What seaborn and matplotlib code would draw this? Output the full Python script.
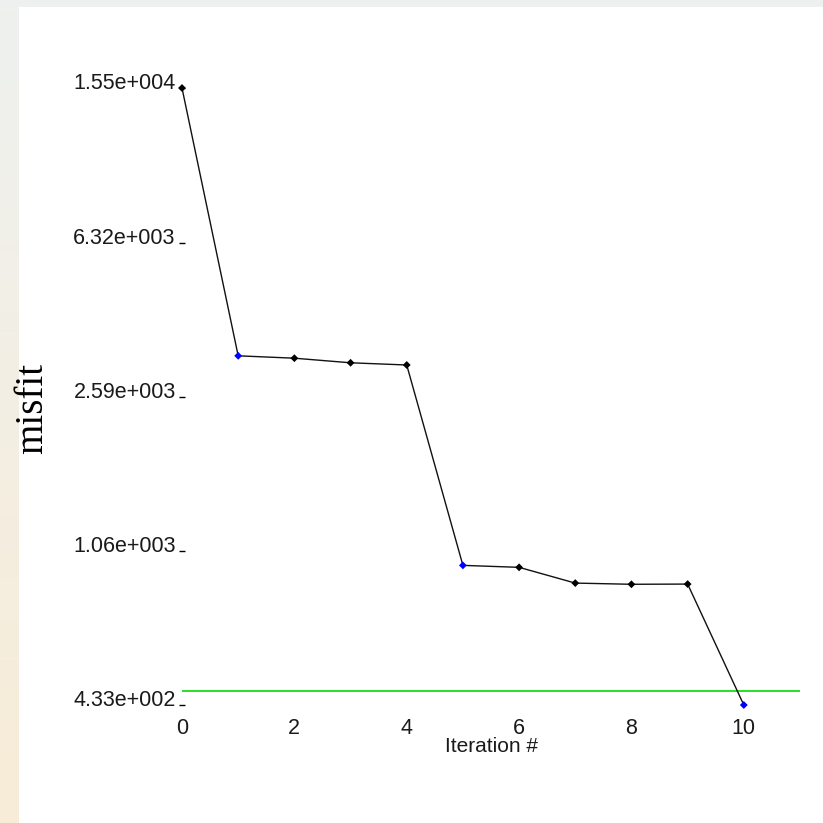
import numpy as np
import pandas as pd
import matplotlib
matplotlib.use("Agg")
import matplotlib.pyplot as plt
import matplotlib.transforms as mtransforms
from matplotlib.patches import Rectangle
import seaborn as sns

# Misfit per inversion iteration
iterations = [0, 1, 2, 3, 4, 5, 6, 7, 8, 9, 10]
misfit = [15500, 3280, 3235, 3150, 3110, 973, 962, 878, 872, 873, 433]
# iterations highlighted in blue
highlight = [False, True, False, False, False, True, False, False, False, False, True]
target_misfit = 470

ytick_values = [433, 1060, 2590, 6320, 15500]
ytick_labels = ["4.33e+002", "1.06e+003", "2.59e+003", "6.32e+003", "1.55e+004"]
xtick_values = [0, 2, 4, 6, 8, 10]

df = pd.DataFrame({"iteration": iterations, "misfit": misfit,
                   "kind": ["hl" if h else "pt" for h in highlight]})

sns.set_theme(style="white")
plt.rcParams["font.family"] = ["Liberation Sans", "DejaVu Sans"]

W = 823
fig = plt.figure(figsize=(8.23, 8.23), dpi=100)
fig.patch.set_facecolor("white")

# frame: thin grey band on top, gradient band on the left
fig.patches.append(Rectangle((0, 1 - 7 / W), 1, 7 / W, transform=fig.transFigure,
                             facecolor="#edf0ee", edgecolor="none", zorder=0))
bg = fig.add_axes([0, 0, 19 / W, 1 - 7 / W])
top_c = np.array([238, 241, 239]) / 255
bot_c = np.array([248, 236, 215]) / 255
t = np.linspace(0, 1, 256)[:, None]
grad = top_c[None, :] * (1 - t) + bot_c[None, :] * t
bg.imshow(grad[:, None, :], aspect="auto", extent=[0, 1, 0, 1])
bg.set_axis_off()

ax = fig.add_axes([182 / W, 1 - 705 / W, 618 / W, 617 / W])
ax.set_facecolor("white")

sns.lineplot(data=df, x="iteration", y="misfit", color="#111111", linewidth=1.0,
             ax=ax, zorder=3, clip_on=False)
ax.axhline(target_misfit, color="#00dd00", linewidth=1.2, zorder=2)
sns.scatterplot(data=df, x="iteration", y="misfit", hue="kind",
                palette={"pt": "black", "hl": "#0000ff"}, marker="D", s=16,
                edgecolor="none", legend=False, ax=ax, zorder=4, clip_on=False)

ax.set_yscale("log")
ax.set_ylim(433, 15500)
ax.set_xlim(0, 11)
ax.minorticks_off()
ax.set_yticks(ytick_values)
ax.set_yticklabels(ytick_labels)
ax.set_xticks(xtick_values)
ax.set_xticklabels([str(v) for v in xtick_values])
for s in ax.spines.values():
    s.set_visible(False)

ax.tick_params(axis="y", which="major", left=True, direction="inout", length=5,
               width=1.0, color="black", pad=2, labelsize=15.5, labelcolor="#1a1a1a")
ax.tick_params(axis="x", which="major", bottom=False, length=0, pad=9,
               labelsize=15.5, labelcolor="#1a1a1a")

# y labels sit slightly above their tick mark
offset = mtransforms.ScaledTranslation(0, 7 / 100, fig.dpi_scale_trans)
for lab in ax.get_yticklabels():
    lab.set_transform(lab.get_transform() + offset)

ax.set_xlabel("")
ax.set_ylabel("")
fig.text(492 / W, 1 - 746 / W, "Iteration #", ha="center", va="center",
         fontsize=15, color="#1a1a1a")
fig.text(33 / W, 1 - 409 / W, "misfit", ha="center", va="center", rotation=90,
         fontsize=28, family=["Liberation Serif", "DejaVu Serif"], color="black")

fig.savefig("out.png", dpi=100)
